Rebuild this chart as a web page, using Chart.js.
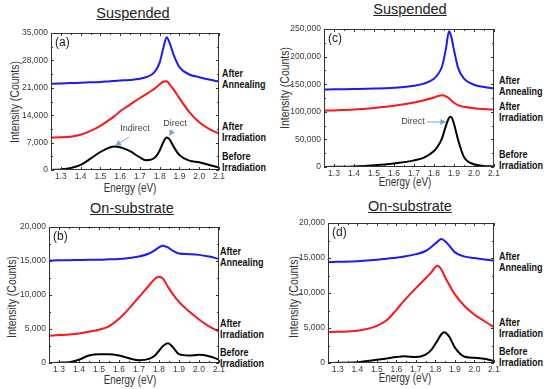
<!DOCTYPE html>
<html>
<head>
<meta charset="UTF-8" />
<title>PL spectra</title>
<script src="https://cdn.jsdelivr.net/npm/chart.js@4.4.1/dist/chart.umd.min.js"></script>
<style>
  body { margin: 0; width: 550px; height: 389px; background: #fff; position: relative; overflow: hidden;
         font-family: "Liberation Sans", Arial, sans-serif; }
  canvas { position: absolute; }
  .t { position: absolute; white-space: nowrap; color: #222; }
  .title { font-size: 14.5px; text-decoration: underline; transform: translate(-50%, -50%); }
  .xlab { font-size: 12px; color: #333; transform: translate(-50%, -50%) scaleX(0.82); }
  .ylab { font-size: 12px; color: #333; transform: translate(-50%, -50%) rotate(-90deg) scaleX(0.87); }
  .side { font-size: 10px; font-weight: bold; line-height: 11px; color: #111; transform: scaleX(0.9); transform-origin: 0 0; }
</style>
</head>
<body>

<div class="t title" style="left:133px; top:13px;">Suspended</div>
<div class="t title" style="left:410px; top:9px;">Suspended</div>
<div class="t title" style="left:132px; top:208px;">On-substrate</div>
<div class="t title" style="left:410px; top:206px;">On-substrate</div>

<div class="t ylab" style="left:15px; top:102px;">Intensity (Counts)</div>
<div class="t ylab" style="left:285px; top:88px;">Intensity (Counts)</div>
<div class="t ylab" style="left:12px; top:297px;">Intensity (Counts)</div>
<div class="t ylab" style="left:294px; top:297px;">Intensity (Counts)</div>

<div class="t xlab" style="left:130px; top:188px;">Energy (eV)</div>
<div class="t xlab" style="left:405px; top:182px;">Energy (eV)</div>
<div class="t xlab" style="left:130px; top:380px;">Energy (eV)</div>
<div class="t xlab" style="left:405px; top:378px;">Energy (eV)</div>

<div class="t side" style="left:222px; top:68px;">After<br>Annealing</div>
<div class="t side" style="left:222px; top:121px;">After<br>Irradiation</div>
<div class="t side" style="left:222px; top:151px;">Before<br>Irradiation</div>

<div class="t side" style="left:499px; top:75px;">After<br>Annealing</div>
<div class="t side" style="left:499px; top:101px;">After<br>Irradiation</div>
<div class="t side" style="left:499px; top:149px;">Before<br>Irradiation</div>

<div class="t side" style="left:220px; top:246px;">After<br>Annealing</div>
<div class="t side" style="left:220px; top:318px;">After<br>Irradiation</div>
<div class="t side" style="left:220px; top:347px;">Before<br>Irradiation</div>

<div class="t side" style="left:499px; top:251px;">After<br>Annealing</div>
<div class="t side" style="left:499px; top:317px;">After<br>Irradiation</div>
<div class="t side" style="left:499px; top:346px;">Before<br>Irradiation</div>

<canvas id="chartA" width="235" height="175" style="left:0px; top:20px;"></canvas>
<canvas id="chartC" width="235" height="175" style="left:275px; top:18px;"></canvas>
<canvas id="chartB" width="235" height="175" style="left:0px; top:214px;"></canvas>
<canvas id="chartD" width="235" height="179" style="left:275px; top:210px;"></canvas>

<script>
// ---- data ----
const xTickLabels = [1.3, 1.4, 1.5, 1.6, 1.7, 1.8, 1.9, 2.0, 2.1];

// (a) suspended
const energyA = [1.25, 1.3, 1.35, 1.4, 1.45, 1.5, 1.55, 1.57, 1.6, 1.65, 1.7, 1.73, 1.76, 1.78, 1.8, 1.82, 1.835, 1.85, 1.87, 1.9, 1.95, 2.0, 2.05, 2.1];
const annealA = [22000, 22100, 22200, 22300, 22400, 22500, 22700, 22750, 22850, 23000, 23300, 23700, 24400, 25400, 27500, 31500, 33900, 32500, 29500, 26300, 24400, 23700, 23100, 22600];
const irradA  = [8300, 8350, 8500, 9000, 10000, 11300, 13000, 13700, 15000, 16700, 18400, 19300, 20300, 21000, 21900, 22600, 22700, 21900, 20600, 18300, 14800, 12200, 10500, 9300];
const beforeA = [0, 150, 500, 1300, 2900, 4600, 5800, 6000, 5800, 4800, 3200, 2500, 2700, 3400, 5000, 7300, 8300, 7800, 6000, 3800, 2400, 2000, 1300, 600];
const yTicksA = [0, 7000, 14000, 21000, 28000, 35000];

// (c) suspended
const energyC = [1.25, 1.3, 1.4, 1.5, 1.6, 1.7, 1.75, 1.8, 1.82, 1.84, 1.86, 1.875, 1.885, 1.9, 1.92, 1.95, 2.0, 2.05, 2.1];
const annealC = [140500, 140800, 141300, 142000, 143500, 147000, 151000, 160000, 168000, 182000, 215000, 246000, 238000, 212000, 180000, 160000, 149000, 145000, 142000];
const irradC  = [102000, 102500, 104000, 107000, 111000, 117000, 121000, 126000, 128500, 130000, 128000, 124500, 121000, 116500, 112000, 109000, 106500, 105000, 104000];
const beforeC = [0, 300, 1000, 3000, 6500, 12000, 17000, 29000, 38000, 52000, 75000, 89000, 91000, 78000, 50000, 18000, 5000, 2000, 1000];
const yTicksC = [0, 50000, 100000, 150000, 200000, 250000];

// (b) on-substrate
const energyB = [1.25, 1.3, 1.35, 1.4, 1.45, 1.5, 1.55, 1.6, 1.65, 1.7, 1.75, 1.78, 1.8, 1.82, 1.845, 1.87, 1.9, 1.95, 2.0, 2.05, 2.1];
const annealB = [15050, 15100, 15120, 15150, 15180, 15200, 15250, 15300, 15450, 15650, 16100, 16600, 17000, 17250, 17000, 16500, 16100, 16000, 15900, 15650, 15300];
const irradB  = [4000, 4100, 4200, 4350, 4600, 4900, 5400, 6500, 8000, 9700, 11400, 12400, 12700, 12400, 11200, 10100, 9000, 7600, 6400, 5400, 4600];
const beforeB = [0, 50, 100, 500, 1100, 1300, 1300, 1100, 700, 400, 600, 1100, 1800, 2500, 2900, 2300, 1300, 1100, 1200, 1000, 500];
const yTicksB = [0, 5000, 10000, 15000, 20000];

// (d) on-substrate
const energyD = [1.25, 1.3, 1.4, 1.5, 1.55, 1.6, 1.64, 1.7, 1.75, 1.78, 1.81, 1.83, 1.845, 1.87, 1.9, 1.95, 2.0, 2.05, 2.1];
const annealD = [14400, 14450, 14550, 14750, 14900, 15050, 15200, 15550, 16000, 16600, 17300, 17700, 17500, 16800, 15800, 15200, 15000, 14800, 14600];
const irradD  = [4400, 4450, 4600, 5300, 6100, 7600, 8900, 10700, 12100, 13000, 13900, 13400, 12500, 11200, 9800, 8100, 6900, 6000, 5100];
const beforeD = [0, 20, 100, 450, 650, 850, 950, 850, 1200, 1900, 3200, 4100, 4400, 3800, 2200, 900, 750, 600, 300];
const yTicksD = [0, 5000, 10000, 15000, 20000];

// arrow notes, in data units: text position, arrow tail, arrow head
const notesA = [
  { text: 'Indirect', tx: 1.675, ty: 10500, x0: 1.645, y0: 8400, x1: 1.574, y1: 6200 },
  { text: 'Direct', tx: 1.877, ty: 12000, x0: 1.867, y0: 10200, x1: 1.847, y1: 8700 }
];
const notesC = [
  { text: 'Direct', tx: 1.695, ty: 81500, x0: 1.765, y0: 81500, x1: 1.862, y1: 81500 }
];

const BLUE = '#1a1aff', RED = '#ff1515', BLACK = '#000000';

// inward ticks on all four sides, tick labels, panel letter and arrows
const framePlugin = {
  id: 'frame',
  afterDraw(chart, args, opts) {
    const ctx = chart.ctx;
    const a = chart.chartArea;
    const xs = chart.scales.x, ys = chart.scales.y;
    ctx.save();
    ctx.strokeStyle = '#333';
    ctx.lineWidth = 1;
    ctx.strokeRect(a.left + 0.5, a.top + 0.5, a.right - a.left - 1, a.bottom - a.top - 1);

    ctx.beginPath();
    xTickLabels.forEach((v, i) => {
      const px = Math.round(xs.getPixelForValue(v)) + 0.5;
      ctx.moveTo(px, a.bottom); ctx.lineTo(px, a.bottom - 3);
      ctx.moveTo(px, a.top); ctx.lineTo(px, a.top + 3);
      const mid = Math.round(xs.getPixelForValue(v - 0.05)) + 0.5;
      ctx.moveTo(mid, a.bottom); ctx.lineTo(mid, a.bottom - 2);
      ctx.moveTo(mid, a.top); ctx.lineTo(mid, a.top + 2);
    });
    opts.yTicks.forEach((v, i) => {
      const py = Math.round(ys.getPixelForValue(v)) + 0.5;
      ctx.moveTo(a.left, py); ctx.lineTo(a.left + 3, py);
      ctx.moveTo(a.right, py); ctx.lineTo(a.right - 3, py);
      if (i > 0) {
        const mid = Math.round(ys.getPixelForValue((v + opts.yTicks[i - 1]) / 2)) + 0.5;
        ctx.moveTo(a.left, mid); ctx.lineTo(a.left + 2, mid);
        ctx.moveTo(a.right, mid); ctx.lineTo(a.right - 2, mid);
      }
    });
    ctx.stroke();

    ctx.fillStyle = '#3a3a3a';
    ctx.font = '8.5px "Liberation Sans", Arial, sans-serif';
    ctx.textAlign = 'center';
    ctx.textBaseline = 'middle';
    xTickLabels.forEach(v => {
      ctx.fillText(v.toFixed(1), xs.getPixelForValue(v), a.bottom + 7);
    });
    ctx.textAlign = 'right';
    opts.yTicks.forEach(v => {
      ctx.fillText(v.toLocaleString('en-US'), a.left - 3, ys.getPixelForValue(v));
    });

    ctx.fillStyle = '#222';
    ctx.font = '12px "Liberation Sans", Arial, sans-serif';
    ctx.textAlign = 'left';
    ctx.fillText(opts.letter, a.left + 4, a.top + 10);

    // arrows
    ctx.font = '9px "Liberation Sans", Arial, sans-serif';
    ctx.textAlign = 'center';
    opts.notes.forEach(n => {
      ctx.fillStyle = '#444';
      ctx.fillText(n.text, xs.getPixelForValue(n.tx), ys.getPixelForValue(n.ty));
      const x0 = xs.getPixelForValue(n.x0), y0 = ys.getPixelForValue(n.y0);
      const x1 = xs.getPixelForValue(n.x1), y1 = ys.getPixelForValue(n.y1);
      const ang = Math.atan2(y1 - y0, x1 - x0);
      ctx.strokeStyle = '#6fa8dc';
      ctx.fillStyle = '#6fa8dc';
      ctx.lineWidth = 1;
      ctx.beginPath();
      ctx.moveTo(x0, y0); ctx.lineTo(x1 - 4 * Math.cos(ang), y1 - 4 * Math.sin(ang));
      ctx.stroke();
      ctx.beginPath();
      ctx.moveTo(x1, y1);
      ctx.lineTo(x1 - 6 * Math.cos(ang) + 3 * Math.sin(ang), y1 - 6 * Math.sin(ang) - 3 * Math.cos(ang));
      ctx.lineTo(x1 - 6 * Math.cos(ang) - 3 * Math.sin(ang), y1 - 6 * Math.sin(ang) + 3 * Math.cos(ang));
      ctx.closePath();
      ctx.fill();
    });
    ctx.restore();
  }
};

function makePanel(id, energy, curves, yTicks, letter, notes, box) {
  const datasets = curves.map(c => ({
    data: energy.map((e, i) => ({ x: e, y: c.values[i] })),
    borderColor: c.color,
    borderWidth: 2,
    pointRadius: 0,
    fill: false,
    cubicInterpolationMode: 'monotone'
  }));
  return new Chart(document.getElementById(id), {
    type: 'line',
    data: { datasets: datasets },
    options: {
      responsive: false,
      animation: false,
      devicePixelRatio: 1,
      layout: { padding: { top: box.top, right: box.right, left: 0, bottom: 0 } },
      plugins: {
        legend: { display: false },
        tooltip: { enabled: false },
        frame: { yTicks: yTicks, letter: letter, notes: notes }
      },
      scales: {
        x: {
          type: 'linear', min: 1.25, max: 2.1,
          grid: { display: false }, border: { display: false }, ticks: { display: false },
          afterFit: s => { s.height = box.xh; }
        },
        y: {
          min: yTicks[0], max: yTicks[yTicks.length - 1],
          grid: { display: false }, border: { display: false }, ticks: { display: false },
          afterFit: s => { s.width = box.yw; }
        }
      }
    },
    plugins: [framePlugin]
  });
}

makePanel('chartA', energyA, [
  { values: beforeA, color: BLACK }, { values: irradA, color: RED }, { values: annealA, color: BLUE }
], yTicksA, '(a)', notesA, { top: 13, right: 16, xh: 25, yw: 51 });

makePanel('chartC', energyC, [
  { values: beforeC, color: BLACK }, { values: irradC, color: RED }, { values: annealC, color: BLUE }
], yTicksC, '(c)', notesC, { top: 11, right: 16, xh: 26, yw: 49 });

makePanel('chartB', energyB, [
  { values: beforeB, color: BLACK }, { values: irradB, color: RED }, { values: annealB, color: BLUE }
], yTicksB, '(b)', [], { top: 13, right: 16, xh: 26, yw: 49 });

makePanel('chartD', energyD, [
  { values: beforeD, color: BLACK }, { values: irradD, color: RED }, { values: annealD, color: BLUE }
], yTicksD, '(d)', [], { top: 13, right: 16, xh: 26, yw: 53 });
</script>
</body>
</html>
